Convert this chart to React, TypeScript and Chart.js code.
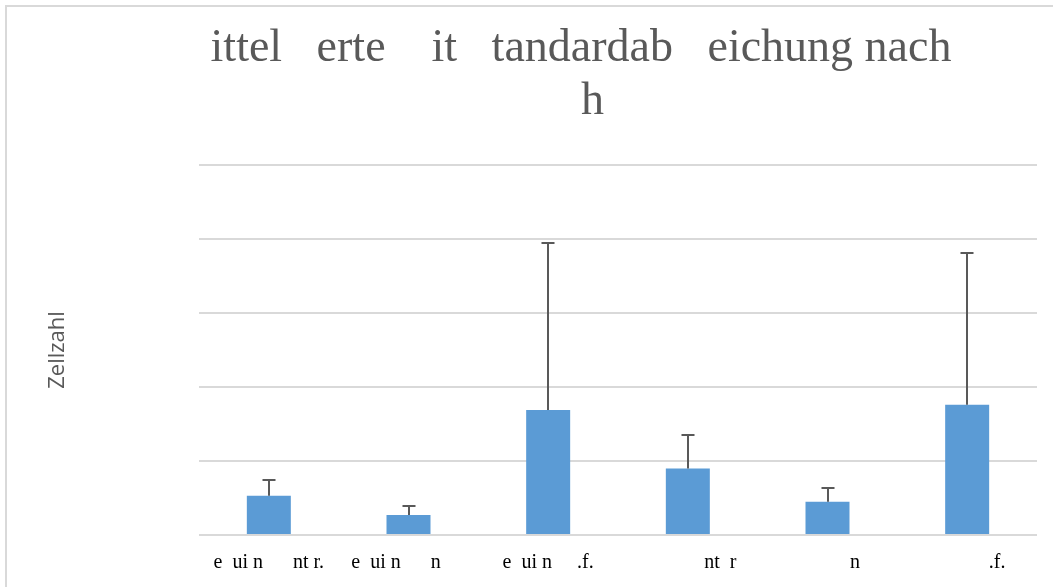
import React, { useEffect, useRef } from "react";
import { Chart, registerables } from "chart.js";

Chart.register(...registerables);

// ---- data ----
const titleLines = ["ittel   erte    it   tandardab   eichung nach", "  h"];
const yAxisTitle = "Zellzahl";
const categories = [
  "e  ui n      nt r.",
  "e  ui n      n     ",
  "e  ui n     .f.",
  "             nt  r",
  "           n",
  "            .f.",
];
const means = [0.53, 0.27, 1.69, 0.9, 0.45, 1.76];
const sds = [0.22, 0.12, 2.25, 0.45, 0.19, 2.05];
const yMin = 0;
const yMax = 5;
const yStep = 1;

const errorBarPlugin = {
  id: "errorBars",
  afterDatasetsDraw(chart: any) {
    const { ctx } = chart;
    const y = chart.scales.y;
    const meta = chart.getDatasetMeta(0);
    ctx.save();
    ctx.strokeStyle = "#595959";
    ctx.lineWidth = 2;
    meta.data.forEach((bar: any, i: number) => {
      const x = Math.round(bar.x);
      const yBase = y.getPixelForValue(means[i]);
      const yTop = Math.round(y.getPixelForValue(means[i] + sds[i]));
      ctx.beginPath();
      ctx.moveTo(x, yBase);
      ctx.lineTo(x, yTop);
      ctx.moveTo(x - 6.5, yTop);
      ctx.lineTo(x + 6.5, yTop);
      ctx.stroke();
    });
    ctx.restore();
  },
};

export default function App() {
  const ref = useRef<HTMLCanvasElement | null>(null);

  useEffect(() => {
    if (!ref.current) return;
    const chart = new Chart(ref.current, {
      type: "bar",
      data: {
        labels: categories,
        datasets: [
          {
            data: means,
            backgroundColor: "#5b9bd5",
            borderWidth: 0,
            barPercentage: 0.315,
            categoryPercentage: 1,
            yAxisID: "y",
          },
        ],
      },
      options: {
        responsive: false,
        animation: false,
        devicePixelRatio: 1,
        layout: { padding: { left: 0, right: 0, top: 0, bottom: 1 } },
        plugins: {
          legend: { display: false },
          tooltip: { enabled: false },
          title: {
            display: true,
            text: titleLines,
            color: "#595959",
            font: { family: "'Liberation Serif', 'Times New Roman', serif", size: 46, lineHeight: 1.15, weight: "normal" },
            padding: { top: 15.5, bottom: 36.7 },
          },
        },
        scales: {
          x: {
            grid: { display: false, drawTicks: false },
            border: { display: false },
            ticks: {
              color: "#000000",
              font: { family: "'Liberation Serif', 'Times New Roman', serif", size: 20 },
              padding: 16,
              maxRotation: 0,
              minRotation: 0,
              autoSkip: false,
            },
          },
          y: {
            position: "left",
            min: yMin,
            max: yMax,
            ticks: { display: false, stepSize: yStep },
            grid: { color: "#d9d9d9", lineWidth: 2, drawTicks: false },
            border: { display: false },
            title: {
              display: true,
              text: yAxisTitle,
              color: "#595959",
              font: { family: "'Open Sans', sans-serif", size: 22, lineHeight: 1.2 },
              padding: { top: 37.8, bottom: 127.8 },
            },
          },
          y2: {
            position: "right",
            min: yMin,
            max: yMax,
            ticks: { display: false },
            grid: { display: false, drawTicks: false },
            border: { display: false },
            afterFit: (scale: any) => {
              scale.width = 118;
            },
          },
        },
      },
      plugins: [errorBarPlugin],
    });
    return () => chart.destroy();
  }, []);

  return (
    <div
      style={{
        position: "fixed",
        left: 0,
        top: 0,
        width: 1053,
        height: 587,
        overflow: "hidden",
        background: "#ffffff",
      }}
    >
      <div
        style={{
          position: "absolute",
          left: 5,
          top: 5,
          width: 1200,
          height: 700,
          borderLeft: "2px solid #d9d9d9",
          borderTop: "2px solid #d9d9d9",
          background: "#ffffff",
        }}
      >
        <canvas ref={ref} width={1148} height={585} style={{ display: "block" }} />
      </div>
    </div>
  );
}
